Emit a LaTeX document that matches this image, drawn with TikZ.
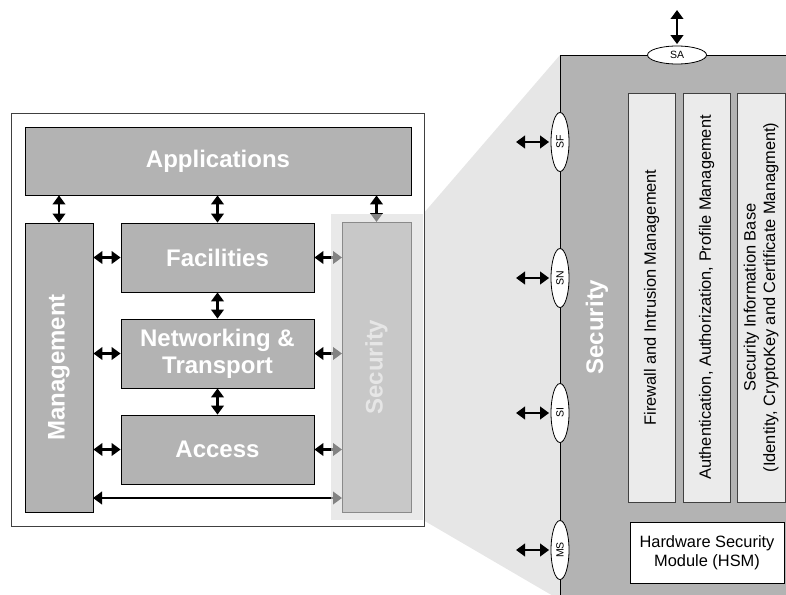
\documentclass[tikz,border=0pt]{standalone}
\usepackage{fontspec}
\setmainfont{Liberation Sans}
\usetikzlibrary{arrows.meta,shapes.geometric,calc}
\definecolor{boxgray}{HTML}{B3B3B3}
\definecolor{zoomgray}{HTML}{E6E6E6}
\definecolor{colgray}{HTML}{EBEBEB}
\definecolor{secfill}{HTML}{C8C8C8}
\definecolor{secline}{HTML}{8A8A8A}
\definecolor{sectext}{HTML}{E6E6E6}
\definecolor{framegray}{HTML}{404040}
\newcommand{\bigfnt}{\fontsize{24}{27}\selectfont\bfseries}
\newcommand{\midfnt}{\fontsize{16.4}{19.5}\selectfont}
\newcommand{\portfnt}{\fontsize{10.5}{12}\selectfont}
\begin{document}
\begin{tikzpicture}[x=1pt,y=-1pt,
  layer/.style={draw=black, line width=0.8pt, fill=boxgray, text=white,
    font=\bigfnt, align=center, inner sep=0pt},
  column/.style={draw=framegray, line width=0.8pt, fill=colgray, text=black,
    font=\midfnt, align=center, inner sep=0pt, rotate=90},
  port/.style={ellipse, draw=black, line width=0.8pt, fill=white, inner sep=0pt,
    minimum width=59pt, minimum height=18pt, font=\portfnt},
  biarrow/.style={{Triangle[length=9pt,width=12.5pt]}-{Triangle[length=9pt,width=12.5pt]},
    line width=2.6pt, black}]
\useasboundingbox (0,0) rectangle (786,594);
\clip (0,0) rectangle (786,594);

% zoom trapezoid
\fill[zoomgray] (423,214) -- (560,55) -- (560,600) -- (423,520) -- cycle;

% big security box on the right
\fill[boxgray] (560,55) rectangle (800,620);
\draw[line width=0.8pt] (800,55) -- (560,55) -- (560,620);
\node[text=white, font=\bigfnt, rotate=90] (bigsec) at (597,327) {Security};

% left frame
\draw[framegray, fill=white, line width=0.8pt] (11,113) rectangle (424,526);

% left layers
\node[layer, minimum width=386pt, minimum height=68pt] (app) at (218,161) {Applications};
\node[layer, rotate=90, minimum width=289pt, minimum height=68pt] (mgmt) at (59,367.5) {Management};
\node[layer, minimum width=193pt, minimum height=69pt] (fac) at (217.5,257.5) {Facilities};
\node[layer, minimum width=193pt, minimum height=69pt] (net) at (217.5,353.5) {Networking \&\\Transport};
\node[layer, minimum width=193pt, minimum height=69pt] (acc) at (217.5,449.5) {Access};
\coordinate (secW) at (342,367);
\coordinate (secN) at (376.5,222);
\coordinate (lowL) at (93,498);
\coordinate (lowR) at (342,498);

% connectors on the left
\draw[biarrow] (app.south -| mgmt.east) -- (mgmt.east);
\draw[biarrow] (app.south -| fac.north) -- (fac.north);
\draw[biarrow] (app.south -| secN) -- (secN);
\draw[biarrow] (fac.south) -- (net.north);
\draw[biarrow] (net.south) -- (acc.north);
\draw[biarrow] (fac.west -| mgmt.south) -- (fac.west);
\draw[biarrow] (net.west -| mgmt.south) -- (net.west);
\draw[biarrow] (acc.west -| mgmt.south) -- (acc.west);
\draw[biarrow] (fac.east) -- (fac.east -| secW);
\draw[biarrow] (net.east) -- (net.east -| secW);
\draw[biarrow] (acc.east) -- (acc.east -| secW);
\draw[biarrow] (lowL) -- (lowR);

% faded security panel
\fill[black!14, opacity=0.6] (331,214) rectangle (423,520);
\node[draw=secline, line width=0.8pt, fill=secfill, text=sectext, font=\bigfnt,
  rotate=90, minimum width=290pt, minimum height=69pt, inner sep=0pt] (sec) at (376.5,367) {Security};

% ports
\node[port] (sa) at (677,55) {SA};
\node[port, rotate=90] (sf) at (560,142) {SF};
\node[port, rotate=90] (sn) at (560,278) {SN};
\node[port, rotate=90] (si) at (560,413) {SI};
\node[port, rotate=90] (ms) at (560,550) {MS};
\coordinate (saT) at (677,10);
\coordinate (sfL) at (516,142);
\coordinate (snL) at (516,278);
\coordinate (siL) at (516,413);
\coordinate (msL) at (516,550);
\draw[biarrow, shorten >=1.5pt] (saT) -- (sa.north);
\draw[biarrow, shorten >=1.5pt] (sfL) -- (sf.north);
\draw[biarrow, shorten >=1.5pt] (snL) -- (sn.north);
\draw[biarrow, shorten >=1.5pt] (siL) -- (si.north);
\draw[biarrow, shorten >=1.5pt] (msL) -- (ms.north);

% columns
\node[column, minimum width=409pt, minimum height=47pt] (fw) at (651.5,297.5) {Firewall and Intrusion Management};
\node[column, minimum width=409pt, minimum height=47pt] (auth) at (706.5,297.5) {Authentication, Authorization, Profile Management};
\node[column, minimum width=409pt, minimum height=48pt] (sib) at (761,297.5) {Security Information Base\\(Identity, CryptoKey and Certificate Managment)};
\node[draw=black, line width=0.8pt, fill=white, font=\midfnt, align=center,
  minimum width=154pt, minimum height=61pt, inner sep=0pt] (hsm) at (707,552.5) {Hardware Security\\Module (HSM)};
\end{tikzpicture}
\end{document}
